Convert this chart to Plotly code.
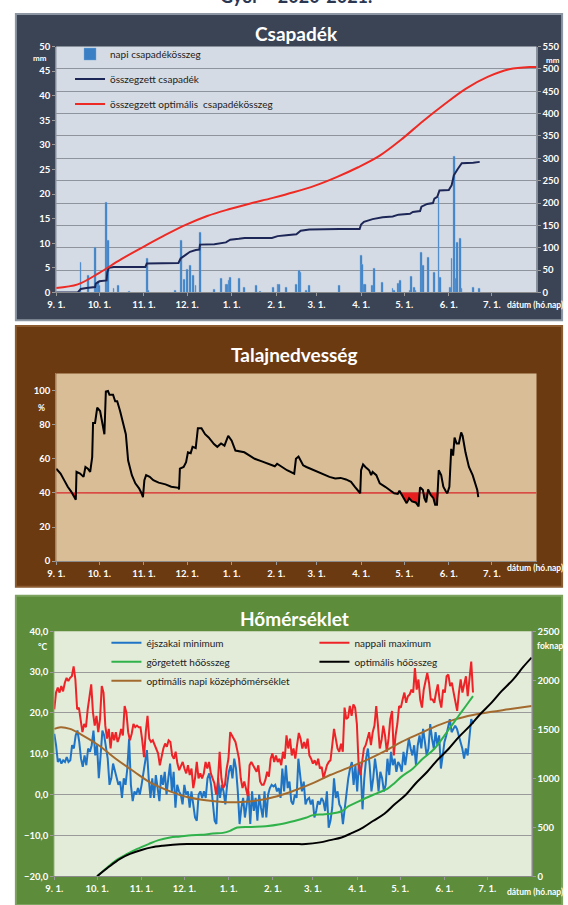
import numpy as np
import pandas as pd
import plotly.graph_objects as go

W, H = 568, 905
START = pd.Timestamp("2020-09-01")
END = pd.Timestamp("2021-08-01")

month_ticks = ["2020-09-01", "2020-10-01", "2020-11-01", "2020-12-01", "2021-01-01",
               "2021-02-01", "2021-03-01", "2021-04-01", "2021-05-01", "2021-06-01", "2021-07-01"]
month_labels = ["9. 1.", "10. 1.", "11. 1.", "12. 1.", "1. 1.", "2. 1.", "3. 1.",
                "4. 1.", "5. 1.", "6. 1.", "7. 1."]

# ---------------- Csapadék (precipitation) ----------------
# days counted from 1 Sept 2020
rain_day = [17, 22, 27, 28, 29, 30, 35, 36, 40, 43, 51, 63, 64, 83, 87, 89, 91, 93, 95, 97, 100,
            110, 115, 118, 119, 120, 121, 127, 131, 139, 142, 151, 154, 155, 160, 167, 169, 170,
            174, 176, 197, 212, 213, 214, 215, 220, 221, 227, 234, 235, 238, 239, 246, 247, 249,
            250, 254, 255, 259, 263, 266, 267, 274, 275, 277, 278, 279, 281, 282, 290, 294]
rain_mm = [6.0, 3.5, 9.2, 1.6, 2.2, 1.5, 18.3, 10.5, 0.8, 1.4, 0.3, 7.0, 0.5, 0.5, 10.6, 2.7, 4.7,
           5.4, 3.5, 1.4, 12.2, 0.7, 2.8, 1.7, 1.7, 2.5, 3.0, 2.8, 1.0, 1.4, 0.3, 1.1, 1.7, 1.7,
           1.0, 1.7, 4.5, 4.1, 0.5, 1.5, 1.4, 7.6, 5.7, 1.7, 1.7, 1.5, 4.9, 2.0, 0.8, 0.5, 1.8,
           2.5, 0.5, 3.2, 1.0, 0.5, 8.2, 5.4, 7.2, 4.1, 19.3, 3.1, 1.0, 7.0, 27.6, 2.8, 10.2,
           11.0, 0.8, 1.0, 0.8]

cum_day = [0, 15, 16.5, 17, 21, 27, 27.5, 30, 35, 35.5, 36.5, 40, 62, 63, 85, 86.5, 90, 93, 97,
           99.5, 100, 110, 118, 121, 127, 131, 150, 154, 160, 167, 170, 176, 197, 211, 212, 214,
           220, 227, 234, 238, 246, 248, 253, 254, 258, 262, 263, 265, 266.5, 273, 275, 276.5,
           279, 282, 290, 294.5]
cum_mm = [0, 0, 6, 8, 10, 12, 20, 25, 27, 45, 55, 57, 57, 65, 66, 76, 84, 91, 95, 96, 107, 108,
          112, 118, 120, 122, 122, 126, 128, 130, 138, 141, 142, 142, 152, 158, 164, 168, 170,
          174, 176, 180, 182, 192, 198, 200, 210, 214, 228, 229, 240, 262, 275, 289, 290, 292]

opt_day = [0, 15, 30, 45, 60, 75, 90, 105, 120, 135, 150, 165, 180, 195, 210, 225, 240, 255, 270,
           285, 300, 315, 330, 334]
opt_mm = [10, 18, 44, 74, 101, 127, 151, 171, 186, 199, 211, 224, 239, 258, 280, 306, 342, 383,
          421, 456, 482, 499, 504, 504]

# ---------------- Talajnedvesség (soil moisture) ----------------
soil_day = [0, 3, 5.5, 8, 10.4, 11.7, 13.6, 14.1, 16.6, 19, 20.3, 22, 23.6, 25, 25.6, 27, 28.5,
            30.5, 32, 33.5, 34.5, 36, 37, 39.5, 41, 42.4, 44.4, 46.4, 48.4, 50, 52.6, 55, 57.6,
            59.3, 60.3, 61.3, 62.5, 65, 67.5, 71.2, 76, 80, 85, 85.4, 86, 88.6, 90.3, 91.6, 93.5,
            94.8, 97, 98.5, 101, 103.5, 106, 109.7, 112, 114.6, 117, 119.6, 122, 124.6, 127,
            130.8, 134.5, 138, 143, 148, 152, 153.6, 157, 160.5, 165.5, 166.7, 168.5, 171.7, 174,
            176.7, 180.4, 185.4, 190, 194, 197.8, 201.5, 205, 207.7, 210, 211.4, 212, 213.4, 215,
            217.6, 219, 220, 222.6, 225, 228.8, 232.5, 235, 237.5, 238.7, 241, 243.7, 245.4,
            247.4, 250, 252, 253, 255, 256, 257.3, 258.6, 260.4, 262.3, 263.5, 264.8, 266, 267.7,
            269.2, 271, 272, 273.4, 274.7, 276, 277, 278.4, 280, 281.6, 282.6, 284.6, 287, 289.6,
            291.6, 292.8, 293.5]
soil_pct = [54.2, 51.3, 47.5, 43.6, 40.8, 38.8, 36, 52.3, 51.3, 49.4, 55.2, 54.2, 52.3, 61, 81,
            81, 90, 88, 82, 74.4, 99.4, 99.8, 97.5, 97.5, 93.7, 93.7, 88, 82, 74.4, 59, 50.4,
            45.6, 42.7, 39.8, 37.5, 47.5, 50.4, 49.4, 47.5, 46, 45, 43.6, 43, 42, 54.2, 55.2, 58,
            63.8, 63.3, 67, 66.3, 77.9, 77.9, 74.4, 72.5, 68.6, 67, 69, 67.7, 73.5, 70.6, 64.8,
            64.4, 63.8, 61.9, 60, 58.5, 56.7, 55.6, 57.1, 55.2, 53.3, 51.3, 60, 61.3, 56.2, 55.2,
            54.2, 52.9, 51, 49.4, 48.5, 48.8, 47.9, 46.5, 43.6, 40.8, 39.8, 53.3, 56.7, 55.2,
            53.3, 50.4, 52.3, 50.4, 45.6, 43.6, 41.2, 39.8, 39.4, 41.3, 37.9, 34, 36.9, 35, 34.4,
            32.1, 43.3, 41.7, 36.9, 34.4, 42, 38.8, 36.9, 33, 33, 53.3, 50.4, 43.6, 40.8, 39.8,
            43.6, 65.8, 61.9, 72.5, 69, 69, 75.4, 73.5, 63.8, 55.2, 50.4, 45.6, 41.7, 37.5]
soil_threshold = 40

# ---------------- Hőmérséklet (temperature) ----------------
temp_last_day = 293  # 1 Sept .. 21 June, readings evenly spaced
tmax = [20.9, 25.0, 26.2, 25.0, 26.6, 25.3, 27.4, 28.6, 27.8, 28.6, 29.0, 31.4, 28.2, 20.9, 21.3,
        17.7, 15.3, 17.3, 16.5, 20.9, 24.1, 27.0, 20.1, 16.9, 19.3, 15.3, 18.5, 26.6, 25.0, 16.9,
        13.7, 16.1, 11.3, 15.3, 13.3, 15.3, 12.9, 14.1, 16.1, 14.5, 21.7, 20.1, 15.3, 13.3, 14.9,
        17.3, 16.5, 16.9, 16.5, 16.5, 13.3, 9.2, 15.3, 19.3, 13.7, 12.9, 13.3, 12.1, 11.3, 10.1,
        7.2, 9.6, 11.3, 12.5, 11.7, 13.3, 12.9, 9.6, 8.8, 10.5, 7.6, 6.0, 7.2, 8.0, 6.4, 5.2, 7.2,
        4.8, 6.4, 1.6, 4.0, 8.0, 4.0, 5.2, 4.0, 5.2, 8.0, 6.4, 8.0, 5.2, 4.0, 2.8, 0.0, 3.2, 10.5,
        4.0, 1.6, 2.4, 6.4, 8.8, 15.3, 14.5, 13.7, 12.9, 10.9, 8.8, 4.0, 1.6, 3.2, 1.6, -0.4, 7.2,
        8.0, 7.2, 6.4, 5.6, 7.2, 3.2, 2.4, 2.4, 3.6, 5.6, 4.4, 8.8, 10.1, 8.0, 9.6, 8.0, 8.8, 7.2,
        10.5, 8.8, 14.5, 11.3, 13.7, 9.6, 11.3, 8.8, 12.1, 15.1, 13.7, 11.3, 12.9, 11.3, 13.7,
        9.6, 8.8, 7.6, 8.4, 7.2, 8.8, 6.4, 6.8, 4.0, 5.6, 7.2, 8.0, 8.4, 12.1, 16.1, 13.7, 11.3,
        10.5, 12.5, 10.5, 21.3, 18.5, 18.9, 21.7, 19.3, 22.1, 21.3, 17.3, 7.2, 4.8, 8.8, 11.3,
        12.1, 13.7, 15.3, 12.1, 15.3, 16.9, 21.7, 16.9, 11.3, 13.3, 16.9, 14.5, 10.5, 13.7, 18.5,
        20.5, 9.6, 14.5, 17.3, 21.7, 21.3, 23.3, 25.0, 22.5, 24.1, 24.5, 25.7, 25.0, 31.0, 25.7,
        28.2, 23.3, 21.3, 25.7, 28.2, 29.8, 27.4, 23.3, 23.3, 22.5, 25.0, 27.0, 23.3, 21.3, 25.7,
        25.0, 29.0, 29.4, 26.6, 27.4, 25.0, 22.5, 20.5, 25.0, 28.2, 25.0, 27.4, 29.0, 24.1, 28.2,
        32.6, 25.0]
tmin = [14.9, 12.1, 8.0, 8.8, 7.6, 8.4, 8.0, 9.2, 8.0, 8.4, 12.1, 11.3, 14.5, 15.7, 13.0, 8.8,
        6.8, 9.6, 7.2, 11.3, 10.5, 12.1, 15.7, 9.6, 12.1, 4.0, 9.6, 15.7, 14.5, 12.1, 8.8, 2.4,
        4.0, 7.6, 5.6, 4.0, 2.4, 3.2, -0.8, 4.0, 2.4, 6.4, 13.7, 2.4, -1.6, 0.8, 0.0, 1.6, 0.0,
        2.4, 5.2, 8.8, 10.9, 4.0, -0.8, 4.0, -0.8, 4.8, 0.8, -1.6, 4.8, 2.4, 5.6, 0.0, 4.0, 7.6,
        0.8, 5.6, -3.2, 2.4, 0.8, 0.0, -2.4, 2.4, 0.0, 0.8, -3.2, 0.8, -2.4, -5.6, -6.4, 0.0,
        0.8, -0.8, 0.8, -0.8, 4.0, 5.2, 2.4, -2.4, -6.4, -7.2, 4.0, -0.8, 2.4, 0.8, -2.4, 2.4,
        5.6, 7.2, 4.0, 8.8, 6.4, 0.8, -7.2, -3.2, -0.8, -5.6, -2.4, 0.8, -7.2, 0.8, -4.0, -0.8,
        -6.4, 0.0, -3.2, -5.6, 0.8, -5.6, 0.0, 1.6, 2.4, 2.0, 2.4, 0.8, 1.6, -0.8, 6.4, 0.8, 7.2,
        1.6, 3.2, -1.6, -2.4, 0.0, -0.8, 8.8, 4.8, 0.8, 3.2, -2.4, -1.2, -0.8, -2.4, -1.2, -5.6,
        -4.0, -1.6, -2.4, -0.8, -1.6, -4.0, 0.8, -8.1, -6.4, -3.2, 4.0, -0.8, 0.8, -2.4, -3.2,
        -7.2, -3.2, 0.8, 4.0, 6.4, 8.0, 2.4, 7.2, 0.8, 8.0, 5.6, -3.6, 4.0, 8.8, 11.3, 7.2, 0.8,
        4.0, 8.8, 5.6, 0.8, 5.6, 4.0, 0.8, 2.4, 8.8, 4.8, 10.5, 7.2, 8.8, 5.6, 8.0, 7.2, 5.6,
        10.5, 7.2, 10.5, 13.7, 11.3, 9.6, 12.1, 7.2, 12.1, 14.5, 11.3, 16.1, 12.9, 9.6, 11.3,
        17.3, 13.7, 11.3, 15.3, 12.1, 14.5, 6.4, 9.6, 12.9, 14.5, 16.9, 18.5, 15.3, 16.1, 16.9,
        16.1, 14.5, 12.9, 11.3, 8.8, 11.3, 9.6, 13.7, 18.5, 17.3]

opt_temp_day = [0, 4.5, 11, 18, 31, 43, 56, 68, 81, 93, 106, 118, 131, 143, 156, 168, 181, 193,
                206, 218, 231, 243, 256, 268, 281, 293, 306, 318, 334]
opt_temp = [16.1, 16.5, 16.1, 14.9, 12.1, 8.8, 5.6, 2.8, 0.8, -0.6, -1.4, -1.8, -1.8, -1.4,
            -0.4, 1.0, 2.8, 4.8, 6.6, 8.4, 10.6, 12.9, 15.0, 16.9, 18.5, 19.5, 20.3, 20.9, 21.7]

heat_day = [30, 36, 43, 51, 58, 66, 73, 81, 88, 96, 103, 111, 118, 123, 128, 138, 148, 158, 168,
            176, 181, 188, 193, 201, 206, 213, 218, 226, 233, 238, 243, 251, 258, 266, 273, 278,
            283, 288, 293]
heat_sum = [0, 77, 161, 228, 279, 329, 369, 396, 406, 419, 423, 436, 443, 463, 497, 503, 510,
            530, 564, 597, 624, 631, 638, 664, 715, 765, 799, 849, 893, 950, 1017, 1101, 1201,
            1302, 1436, 1537, 1638, 1738, 1839]

opt_heat_day = [30, 38, 46, 53, 61, 68, 76, 83, 93, 118, 143, 168, 176, 186, 193, 201, 208, 216,
                223, 231, 238, 246, 253, 261, 268, 276, 283, 291, 298, 306, 313, 321, 328, 334]
opt_heat = [0, 94, 178, 228, 268, 295, 312, 322, 329, 329, 329, 329, 329, 346, 369, 396, 440,
            497, 564, 638, 732, 832, 950, 1067, 1185, 1302, 1420, 1537, 1654, 1772, 1889, 2007,
            2134, 2232]


def to_date(days):
    return START + pd.to_timedelta(np.asarray(days, dtype=float), unit="D")


def px(x):
    return x / W


def py(y):
    return 1 - y / H


FONT = "Lato"
WHITE_BOLD = dict(family=FONT, size=9.5, color="white", weight="bold")

fig = go.Figure()

# ---- panel 1 traces
fig.add_trace(go.Bar(x=to_date(rain_day), y=rain_mm, name="napi csapadékösszeg",
                     marker=dict(color="#3a7fc4", line=dict(color="#78a9dc", width=0.4)),
                     width=86400000 * 1.3, xaxis="x", yaxis="y",
                     legend="legend", legendgroup="g1"))
fig.add_trace(go.Scatter(x=to_date(cum_day), y=cum_mm, name="összegzett csapadék", mode="lines",
                         line=dict(color="#1d2757", width=2), xaxis="x", yaxis="y2",
                         legend="legend", legendgroup="g2"))
fig.add_trace(go.Scatter(x=to_date(opt_day), y=opt_mm, name="összegzett optimális  csapadékösszeg",
                         mode="lines", line=dict(color="#ee2a24", width=2, shape="spline"),
                         xaxis="x", yaxis="y2", legend="legend", legendgroup="g3"))

# ---- panel 2 traces
soil_dates = to_date(soil_day)
fig.add_trace(go.Scatter(x=soil_dates, y=[soil_threshold] * len(soil_day), mode="lines",
                         line=dict(width=0), showlegend=False, hoverinfo="skip",
                         xaxis="x2", yaxis="y3"))
fig.add_trace(go.Scatter(x=soil_dates, y=np.minimum(soil_pct, soil_threshold), mode="lines",
                         line=dict(width=0), fill="tonexty", fillcolor="#e81e1e",
                         showlegend=False, hoverinfo="skip", xaxis="x2", yaxis="y3"))
fig.add_trace(go.Scatter(x=[START, END], y=[soil_threshold, soil_threshold], mode="lines",
                         line=dict(color="#d9262a", width=1.2), showlegend=False,
                         xaxis="x2", yaxis="y3"))
fig.add_trace(go.Scatter(x=soil_dates, y=soil_pct, mode="lines", name="talajnedvesség",
                         line=dict(color="black", width=2), showlegend=False,
                         xaxis="x2", yaxis="y3"))

# ---- panel 3 traces
temp_dates = to_date(np.linspace(0, temp_last_day, len(tmax)))
temp_dates_min = to_date(np.linspace(0, temp_last_day, len(tmin)))
fig.add_trace(go.Scatter(x=temp_dates_min, y=tmin, name="éjszakai minimum", mode="lines",
                         line=dict(color="#1f74c6", width=2), xaxis="x3", yaxis="y4",
                         legend="legend2"))
fig.add_trace(go.Scatter(x=temp_dates, y=tmax, name="nappali maximum", mode="lines",
                         line=dict(color="#ee2327", width=2), xaxis="x3", yaxis="y4",
                         legend="legend2"))
fig.add_trace(go.Scatter(x=to_date(heat_day), y=heat_sum, name="görgetett hőösszeg",
                         mode="lines", line=dict(color="#2fb24a", width=2, shape="spline"),
                         xaxis="x3", yaxis="y5", legend="legend2"))
fig.add_trace(go.Scatter(x=to_date(opt_heat_day), y=opt_heat, name="optimális hőösszeg",
                         mode="lines", line=dict(color="black", width=2, shape="spline"),
                         xaxis="x3", yaxis="y5", legend="legend2"))
fig.add_trace(go.Scatter(x=to_date(opt_temp_day), y=opt_temp,
                         name="optimális napi középhőmérséklet", mode="lines",
                         line=dict(color="#a36a2e", width=2, shape="spline"),
                         xaxis="x3", yaxis="y4", legend="legend2"))

# ---- geometry of the three plot areas (pixels)
P1 = dict(l=48, r=536, t=41, b=290)
P2 = dict(l=48, r=536, t=372, b=562)
P3 = dict(l=46, r=531, t=633, b=881)


def xdom(p):
    return [px(p["l"]), px(p["r"])]


def ydom(p):
    return [py(p["b"]), py(p["t"])]


xcommon = dict(type="date", range=[START, END], tickvals=month_ticks, ticktext=month_labels,
               tickfont=WHITE_BOLD, showgrid=False, zeroline=False, ticks="outside",
               ticklen=3, tickcolor="#9a9a9a", showline=True, linecolor="#8a8a8a",
               linewidth=1, fixedrange=True)
ycommon = dict(tickfont=WHITE_BOLD, zeroline=False, ticks="outside", ticklen=3,
               tickcolor="#9a9a9a", showline=True, linecolor="#8a8a8a", linewidth=1,
               fixedrange=True)

panel_shapes = [
    # panel backgrounds
    dict(type="rect", xref="paper", yref="paper", x0=px(7), x1=px(562), y0=py(318), y1=py(8),
         fillcolor="#3b4455", line=dict(color="#8d96a3", width=2), layer="below"),
    dict(type="rect", xref="paper", yref="paper", x0=px(7), x1=px(562), y0=py(588), y1=py(324),
         fillcolor="#6c3a11", line=dict(color="#8a5a30", width=2), layer="below"),
    dict(type="rect", xref="paper", yref="paper", x0=px(7), x1=px(562), y0=py(910), y1=py(597),
         fillcolor="#5d8c3a", line=dict(color="#7ea25f", width=2), layer="below"),
    # plot-area backgrounds
    dict(type="rect", xref="paper", yref="paper", x0=px(P1["l"]), x1=px(P1["r"]),
         y0=py(P1["b"]), y1=py(P1["t"]), fillcolor="#d5dbe4", line=dict(width=0), layer="below"),
    dict(type="rect", xref="paper", yref="paper", x0=px(P2["l"]), x1=px(P2["r"]),
         y0=py(P2["b"]), y1=py(P2["t"]), fillcolor="#d9bd97", line=dict(width=0), layer="below"),
    dict(type="rect", xref="paper", yref="paper", x0=px(P3["l"]), x1=px(P3["r"]),
         y0=py(P3["b"]), y1=py(P3["t"]), fillcolor="#e3ebd9", line=dict(width=0), layer="below"),
]


def ann(text, x, y, size=9, color="white", bold=True, xanchor="center", yanchor="middle"):
    return dict(text=text, x=px(x), y=py(y), xref="paper", yref="paper", showarrow=False,
                xanchor=xanchor, yanchor=yanchor,
                font=dict(family=FONT, size=size, color=color,
                          weight="bold" if bold else "normal"))


annotations = [
    ann("Győr – 2020-2021.", 292, 3, size=18, color="#2b3750", yanchor="bottom"),
    ann("Csapadék", 292, 28, size=19),
    ann("Talajnedvesség", 290, 353, size=19),
    ann("Hőmérséklet", 290, 620, size=19),
    ann("mm", 31, 53, size=8),
    ann("mm", 553, 54.5, size=8),
    ann("%", 33, 407, size=8.5),
    ann("°C", 35, 649, size=8.5),
    ann("foknap", 550, 648, size=8.5),
    ann("dátum (hó.nap)", 566, 303, size=8.5, xanchor="right"),
    ann("dátum (hó.nap)", 566, 569, size=8.5, xanchor="right"),
    ann("dátum (hó.nap)", 566, 897, size=8.5, xanchor="right"),
]

fig.update_layout(
    width=W, height=H, margin=dict(l=0, r=0, t=0, b=0),
    paper_bgcolor="white", plot_bgcolor="rgba(0,0,0,0)",
    separators=", ", bargap=0,
    font=dict(family=FONT, size=10, color="#222222"),
    xaxis=dict(domain=xdom(P1), anchor="y", **xcommon),
    yaxis=dict(domain=ydom(P1), anchor="x", range=[0, 50], dtick=5, showgrid=False, **ycommon),
    yaxis2=dict(overlaying="y", side="right", anchor="x", range=[0, 550], dtick=50,
                showgrid=True, gridcolor="#8f949c", gridwidth=1, **ycommon),
    xaxis2=dict(domain=xdom(P2), anchor="y3", **xcommon),
    yaxis3=dict(domain=ydom(P2), anchor="x2", range=[0, 110], tickvals=[0, 20, 40, 60, 80, 100],
                showgrid=False, **ycommon),
    xaxis3=dict(domain=xdom(P3), anchor="y4", **xcommon),
    yaxis4=dict(domain=ydom(P3), anchor="x3", range=[-20, 40], dtick=10, tickformat=".1f",
                showgrid=True, gridcolor="#9a9a9a", gridwidth=1, **ycommon),
    yaxis5=dict(overlaying="y4", side="right", anchor="x3", range=[0, 2500], dtick=500,
                showgrid=False, **ycommon),
    legend=dict(x=px(62), y=py(34), xanchor="left", yanchor="top", bgcolor="rgba(0,0,0,0)",
                traceorder="grouped", tracegroupgap=6,
                font=dict(family=FONT, size=10, color="#222222")),
    legend2=dict(x=px(99), y=py(630), xanchor="left", yanchor="top", orientation="h",
                 bgcolor="rgba(0,0,0,0)", entrywidth=163, entrywidthmode="pixels",
                 font=dict(family=FONT, size=10, color="#222222")),
    shapes=panel_shapes,
    annotations=annotations,
    showlegend=True,
)

fig.write_html("out.html", config={"displayModeBar": False},
               post_script="document.body.style.margin='0px';"
                           "document.body.style.overflow='hidden';")
